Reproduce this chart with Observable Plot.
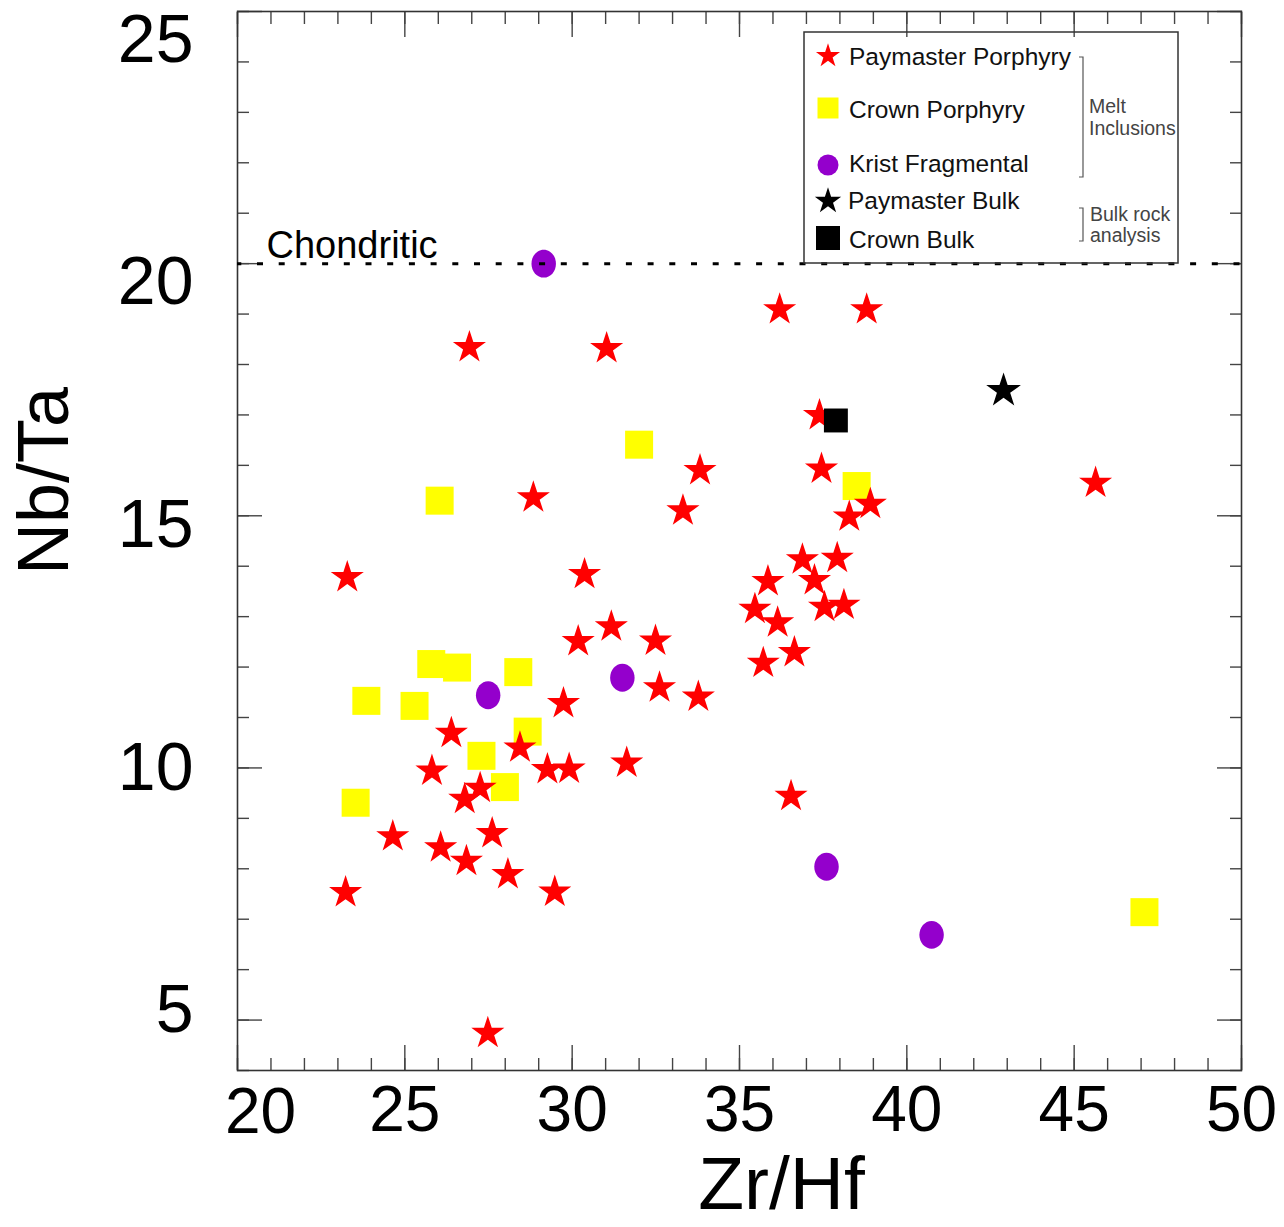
<!DOCTYPE html>
<html>
<head>
<meta charset="utf-8">
<script src="https://cdn.jsdelivr.net/npm/d3@7"></script>
<script src="https://cdn.jsdelivr.net/npm/@observablehq/plot@0.6"></script>
<style>
  html, body { margin: 0; padding: 0; background: #fff; }
  #wrap { position: relative; width: 1284px; height: 1227px; font-family: "Liberation Sans", Arial, sans-serif; }
  #wrap svg { display: block; }
</style>
</head>
<body>
<div id="wrap"></div>
<script>
// ---------- data ----------
const paymasterZrHf = [23.28, 23.23, 24.64, 25.81, 26.07, 26.39, 26.79, 26.84, 26.93, 27.25, 27.61, 27.48, 28.08, 28.44, 28.84, 29.26, 29.48, 29.74, 29.91, 30.18, 30.37, 31.03, 31.17, 31.63, 32.49, 32.61, 33.31, 33.77, 33.82, 35.46, 35.71, 35.85, 36.14, 36.20, 36.54, 36.64, 36.88, 37.24, 37.39, 37.45, 37.54, 37.92, 38.12, 38.28, 38.80, 38.91, 45.64];
const paymasterNbTa = [13.78, 7.53, 8.64, 9.94, 8.42, 10.69, 9.38, 8.15, 18.34, 9.60, 8.70, 4.74, 7.89, 10.40, 15.36, 9.97, 7.54, 11.28, 9.98, 12.51, 13.84, 18.32, 12.80, 10.10, 12.52, 11.59, 15.10, 11.41, 15.90, 13.15, 12.08, 13.70, 12.88, 19.09, 9.44, 12.29, 14.13, 13.72, 16.99, 15.93, 13.19, 14.16, 13.23, 14.98, 19.09, 15.23, 15.65];

const crownZrHf = [23.53, 23.85, 25.29, 25.79, 26.04, 26.56, 27.29, 27.99, 28.39, 28.67, 32.00, 38.50, 47.10];
const crownNbTa = [9.31, 11.33, 11.23, 12.06, 15.30, 11.99, 10.24, 9.62, 11.90, 10.72, 16.41, 15.59, 7.14];

const kristZrHf = [29.15, 27.49, 31.50, 37.60, 40.74];
const kristNbTa = [20.00, 11.44, 11.79, 8.04, 6.69];

const paymasterBulkZrHf = [42.89];
const paymasterBulkNbTa = [17.48];
const crownBulkZrHf = [37.88];
const crownBulkNbTa = [16.89];

const chondriticNbTa = [20];
const chondriticLabel = "Chondritic";

const xTicksMinor = d3.range(20, 51, 1);
const xTicksMajor = [20, 25, 30, 35, 40, 45, 50];
const yTicksMinor = d3.range(4, 26, 1);
const yTicksMajor = [5, 10, 15, 20, 25];

const xTitle = "Zr/Hf";
const yTitle = "Nb/Ta";

const legendItems = ["Paymaster Porphyry", "Crown Porphyry", "Krist Fragmental", "Paymaster Bulk", "Crown Bulk"];

// ---------- build tables ----------
const zip = (xs, ys) => xs.map((x, i) => ({x, y: ys[i]}));
const paymaster = zip(paymasterZrHf, paymasterNbTa);
const crown = zip(crownZrHf, crownNbTa);
const krist = zip(kristZrHf, kristNbTa);
const paymasterBulk = zip(paymasterBulkZrHf, paymasterBulkNbTa);
const crownBulk = zip(crownBulkZrHf, crownBulkNbTa);

const FONT = "'Liberation Sans', Arial, Helvetica, sans-serif";
const TICK = "#444";
const intFmt = d => String(d);

// oval symbol for the Krist Fragmental inclusions
const oval = {
  draw(context, size) {
    const r = Math.sqrt(size / Math.PI);
    const rx = r * 0.92, ry = r * 1.05, k = 0.5523;
    context.moveTo(rx, 0);
    context.bezierCurveTo(rx, ry * k, rx * k, ry, 0, ry);
    context.bezierCurveTo(-rx * k, ry, -rx, ry * k, -rx, 0);
    context.bezierCurveTo(-rx, -ry * k, -rx * k, -ry, 0, -ry);
    context.bezierCurveTo(rx * k, -ry, rx, -ry * k, rx, 0);
    context.closePath();
  }
};

const blank = () => "";
const yLabelMarks = yTicksMajor.map(v =>
  Plot.axisY([v], {anchor: "left", tickSize: 0, tickPadding: 44, fontSize: 68, label: null, dy: (v - 10) * 1.9, fill: "black", tickFormat: intFmt})
);
const xLabelMarks = [
  Plot.axisX(xTicksMajor.filter(v => v !== 20), {anchor: "bottom", tickSize: 0, tickPadding: 15, fontSize: 64, label: null, fill: "black", tickFormat: intFmt}),
  Plot.axisX(xTicksMajor.filter(v => v === 20), {anchor: "bottom", tickSize: 0, tickPadding: 17, fontSize: 64, label: null, dx: 23, fill: "black", tickFormat: intFmt})
];

const chart = Plot.plot({
  width: 1284,
  height: 1227,
  marginLeft: 237,
  marginRight: 43,
  marginTop: 11,
  marginBottom: 157,
  x: {domain: [20, 50], label: null},
  y: {domain: [4, 25], label: null},
  style: {fontFamily: FONT, background: "white", color: "black", overflow: "visible"},
  marks: [
    // inward ticks
    Plot.axisX(xTicksMinor, {anchor: "bottom", tickSize: -12, tickFormat: blank, label: null, stroke: TICK, strokeWidth: 1.4}),
    Plot.axisX(xTicksMajor, {anchor: "bottom", tickSize: -25, tickFormat: blank, label: null, stroke: TICK, strokeWidth: 1.4}),
    Plot.axisX(xTicksMinor, {anchor: "top", tickSize: -12, tickFormat: blank, label: null, stroke: TICK, strokeWidth: 1.4}),
    Plot.axisX(xTicksMajor, {anchor: "top", tickSize: -25, tickFormat: blank, label: null, stroke: TICK, strokeWidth: 1.4}),
    Plot.axisY(yTicksMinor, {anchor: "left", tickSize: -12, tickFormat: blank, label: null, stroke: TICK, strokeWidth: 1.4}),
    Plot.axisY(yTicksMajor, {anchor: "left", tickSize: -25, tickFormat: blank, label: null, stroke: TICK, strokeWidth: 1.4}),
    Plot.axisY(yTicksMinor, {anchor: "right", tickSize: -12, tickFormat: blank, label: null, stroke: TICK, strokeWidth: 1.4}),
    Plot.axisY(yTicksMajor, {anchor: "right", tickSize: -25, tickFormat: blank, label: null, stroke: TICK, strokeWidth: 1.4}),
    ...yLabelMarks,
    ...xLabelMarks,
    Plot.frame({stroke: "#333", strokeWidth: 1.6}),
    // data
    Plot.dot(crown, {x: "x", y: "y", symbol: "square", r: 15.8, fill: "#ffff00"}),
    Plot.dot(krist, {x: "x", y: "y", symbol: oval, r: 13.3, fill: "#9400cc"}),
    Plot.dot(paymaster, {x: "x", y: "y", symbol: "star", r: 10.4, fill: "#ff0000"}),
    Plot.ruleY(chondriticNbTa, {stroke: "black", strokeWidth: 3, strokeDasharray: "6,15.7", strokeDashoffset: -20}),
    Plot.dot(crownBulk, {x: "x", y: "y", symbol: "square", r: 13.5, fill: "#000"}),
    Plot.dot(paymasterBulk, {x: "x", y: "y", symbol: "star", r: 10.9, fill: "#000"}),
    // annotations
    Plot.text(chondriticNbTa, {y: d => d, frameAnchor: "left", text: () => chondriticLabel, textAnchor: "start", lineAnchor: "bottom", dx: 29, dy: -6, fontSize: 38, fill: "black"}),
    Plot.text([xTitle], {text: d => d, frameAnchor: "bottom", textAnchor: "middle", dx: 42, dy: 114, lineAnchor: "middle", fontSize: 75, fill: "black"}),
    Plot.text([yTitle], {text: d => d, frameAnchor: "left", textAnchor: "middle", rotate: -90, dx: -193, dy: -60, lineAnchor: "middle", fontSize: 72, fill: "black"})
  ]
});

const wrap = document.getElementById("wrap");
wrap.appendChild(chart);

// ---------- legend (overlay inside the plot frame) ----------
const lg = d3.select(wrap).append("svg")
  .attr("width", 1284).attr("height", 1227)
  .style("position", "absolute").style("left", "0px").style("top", "0px")
  .style("pointer-events", "none")
  .style("font-family", FONT);

lg.append("rect").attr("x", 804).attr("y", 32).attr("width", 374).attr("height", 231)
  .attr("fill", "none").attr("stroke", "#333").attr("stroke-width", 1.5);

const sym = (type, size) => d3.symbol().type(type).size(size)();
const legendSymbols = [
  {d: sym(d3.symbolStar, 180), fill: "#ff0000", cy: 56},
  {d: sym(d3.symbolSquare, 441), fill: "#ffff00", cy: 108},
  {d: sym(d3.symbolCircle, 346), fill: "#9400cc", cy: 165},
  {d: sym(d3.symbolStar, 215), fill: "#000", cy: 201},
  {d: sym(d3.symbolSquare, 576), fill: "#000", cy: 238}
];
const baselines = [65, 118, 172, 209, 248];
legendItems.forEach((name, i) => {
  const s = legendSymbols[i];
  lg.append("path").attr("d", s.d).attr("fill", s.fill).attr("transform", `translate(828,${s.cy})`);
  lg.append("text").attr("x", i === 3 ? 848 : 849).attr("y", baselines[i])
    .attr("font-size", 24.5).attr("fill", "#111").text(name);
});

// brackets
const bracket = (x, y1, y2) => {
  lg.append("path").attr("d", `M${x - 4},${y1}H${x}V${y2}H${x - 4}`)
    .attr("fill", "none").attr("stroke", "#555").attr("stroke-width", 1.2);
};
bracket(1083, 57, 177);
bracket(1083, 208, 241);
const note = (txt, x, y) => lg.append("text").attr("x", x).attr("y", y).attr("font-size", 19.5).attr("fill", "#444").text(txt);
note("Melt", 1089, 113);
note("Inclusions", 1089, 135);
note("Bulk rock", 1090, 221);
note("analysis", 1090, 242);
</script>
</body>
</html>
